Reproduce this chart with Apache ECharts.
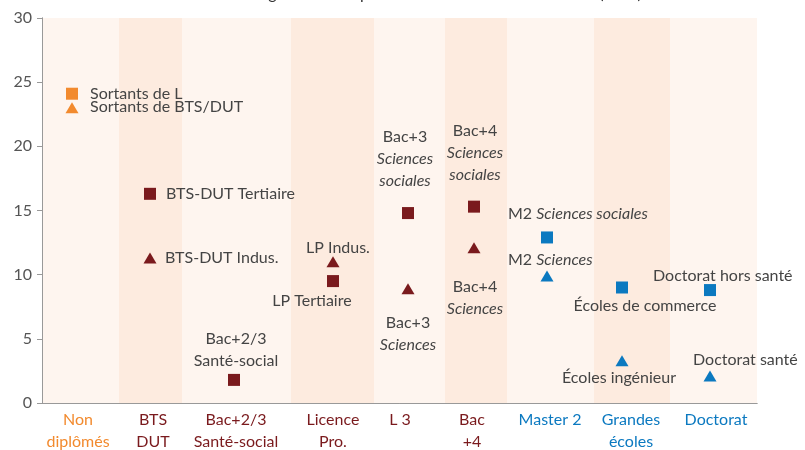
<!DOCTYPE html>
<html><head><meta charset="utf-8">
<script src="https://cdn.jsdelivr.net/npm/echarts@6/dist/echarts.min.js"></script>
<style>html,body{margin:0;padding:0;background:#fff}#c{width:805px;height:450px}</style>
</head><body><div id="c"></div>
<script>
// ---- data ----
const categoryLines = [['Non','diplômés'],['BTS','DUT'],['Bac+2/3','Santé-social'],['Licence','Pro.'],['L 3'],['Bac','+4'],['Master 2'],['Grandes','écoles'],['Doctorat']];
const categoryGroup = ['o','r','r','r','r','r','b','b','b'];
const bandEdges = [0,77,140,249,332,403,465,552,628,715];
const categoryLabelAt = [36,111,194,291,358,430,508,589,674];
const yTicks = [0,5,10,15,20,25,30];

const pointX     = [30, 30, 108, 108, 192, 291, 291, 366, 366, 432, 432, 505, 505, 580, 580, 668, 668];
const pointValue = [24.1, 23.0, 16.3, 11.3, 1.8, 11.0, 9.5, 14.8, 8.9, 15.3, 12.1, 12.9, 9.9, 9.0, 3.3, 8.8, 2.1];
const pointShape = ['sq','tr','sq','tr','sq','tr','sq','sq','tr','sq','tr','sq','tr','sq','tr','sq','tr'];
const pointGroup = ['o','o','r','r','r','r','r','r','r','r','r','b','b','b','b','b','b'];
const pointText = [
  'Sortants de L',
  'Sortants de BTS/DUT',
  'BTS-DUT Tertiaire',
  'BTS-DUT Indus.',
  'Bac+2/3\nSanté-social',
  'LP Indus.',
  'LP Tertiaire',
  'Bac+3\n{i|Sciences}\n{i|sociales}',
  'Bac+3\n{i|Sciences}',
  'Bac+4\n{i|Sciences}\n{i|sociales}',
  'Bac+4\n{i|Sciences}',
  'M2 {i|Sciences sociales}',
  'M2 {i|Sciences}',
  'Écoles de commerce',
  'Écoles ingénieur',
  'Doctorat hors santé',
  'Doctorat santé'
];
// label layout: [align, dx, dy] relative to the marker
const labelLayout = [
  ['left',18,0],['left',18,-1],['left',16,0],['left',15,0],
  ['center',2,-30],['center',5,-14],['center',-21,20],
  ['center',-3,-54],['center',0,45],['center',1,-54],['center',1,50],
  ['left',-39,-24],['left',-39,-16],
  ['center',23,18],['center',-3,17],
  ['left',-57,-14],['left',-17,-16]
];

const colors = {o:'#F28A2E', r:'#7A1A1D', b:'#0B79C0'};
const FONT = 'Lato';

const markAreaData = [];
for (let i = 0; i < bandEdges.length - 1; i++) {
  markAreaData.push([{xAxis: bandEdges[i], itemStyle:{color: i % 2 ? '#FDEBDF' : '#FEF5EF', opacity: 1}}, {xAxis: bandEdges[i+1]}]);
}

const points = pointX.map((x, i) => ({
  value: [x, pointValue[i]],
  symbol: pointShape[i] === 'sq' ? 'rect' : 'triangle',
  symbolSize: pointShape[i] === 'sq' ? [12,12] : [13,11],
  itemStyle: {color: colors[pointGroup[i]], opacity: 1},
  label: {
    show: true, position: 'inside',
    formatter: pointText[i],
    align: labelLayout[i][0], verticalAlign: 'middle',
    offset: [labelLayout[i][1], labelLayout[i][2]]
  }
}));

const chart = echarts.init(document.getElementById('c'), null, {renderer:'canvas'});
chart.setOption({
  animation: false,
  title: {
    text: 'Taux de chômage trois ans après la sortie de formation initiale (en %)',
    left: 'center', top: -19,
    textStyle: {fontFamily: FONT, fontWeight: 400, fontSize: 16, color: '#333'}
  },
  grid: {left: 42, right: 48, top: 18, bottom: 46},
  xAxis: [{
    type: 'value', min: 0, max: 715, z: 5,
    axisLine: {show: true, lineStyle: {color: '#999', width: 1}},
    axisTick: {show: false},
    splitLine: {show: false},
    axisLabel: {
      customValues: categoryLabelAt,
      margin: 6,
      formatter: function (v) {
        const i = categoryLabelAt.indexOf(v);
        if (i < 0) return '';
        return categoryLines[i].map(t => '{' + categoryGroup[i] + '|' + t + '}').join('\n');
      },
      rich: {
        o: {color: colors.o, fontFamily: FONT, fontSize: 16, lineHeight: 22},
        r: {color: colors.r, fontFamily: FONT, fontSize: 16, lineHeight: 22},
        b: {color: colors.b, fontFamily: FONT, fontSize: 16, lineHeight: 22}
      }
    }
  }, {
    type: 'value', min: 0, max: 715, position: 'top', z: 5,
    axisLine: {show: true, lineStyle: {color: '#999', width: 1}},
    axisTick: {show: false}, axisLabel: {show: false}, splitLine: {show: false}
  }],
  yAxis: [{
    type: 'value', min: 0, max: 30, interval: 5, z: 5,
    axisLine: {show: true, lineStyle: {color: '#999', width: 1}},
    axisTick: {show: true, length: 5, lineStyle: {color: '#999'}},
    splitLine: {show: false},
    axisLabel: {
      margin: 10, color: '#555', fontFamily: FONT, fontSize: 16,
      customValues: yTicks
    }
  }, {
    type: 'value', min: 0, max: 30, position: 'right', z: 5,
    axisLine: {show: true, lineStyle: {color: '#999', width: 1}},
    axisTick: {show: false}, axisLabel: {show: false}, splitLine: {show: false}
  }],
  series: [{
    type: 'scatter', z: 1, silent: true, data: [],
    markArea: {silent: true, data: markAreaData}
  }, {
    type: 'scatter', z: 10, silent: true,
    data: points,
    label: {
      color: '#444', fontFamily: FONT, fontSize: 16, lineHeight: 22,
      rich: {i: {fontStyle: 'italic', color: '#444', fontFamily: FONT, fontSize: 16, lineHeight: 22}}
    },
    emphasis: {disabled: true}
  }]
});
</script>
</body></html>
